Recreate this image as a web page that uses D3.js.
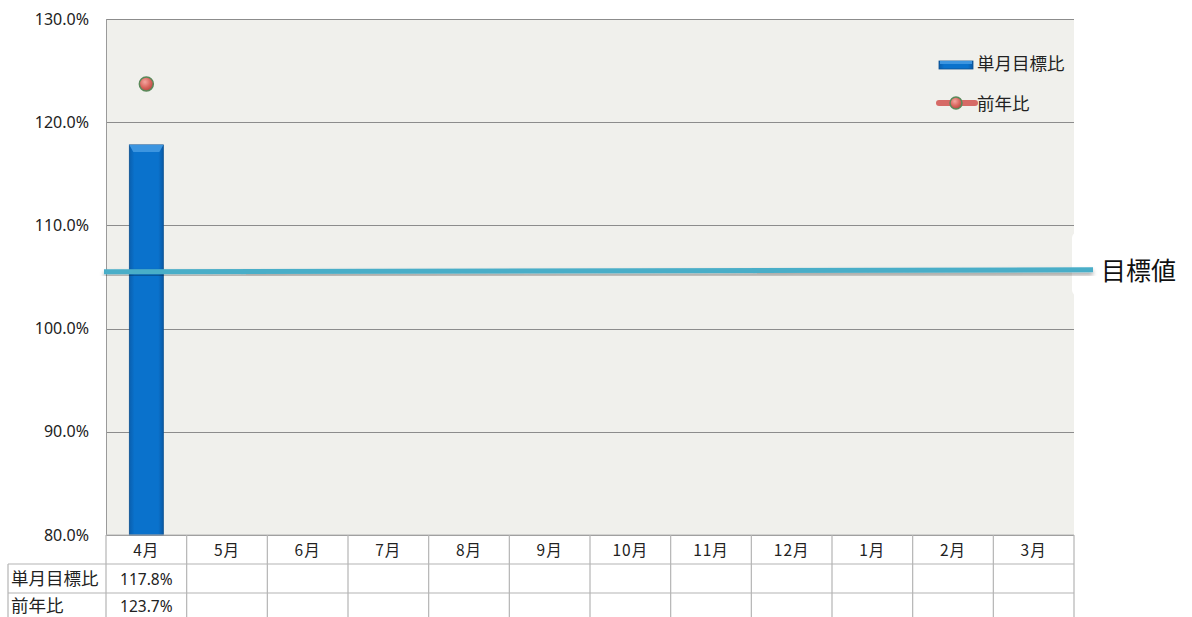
<!DOCTYPE html>
<html lang="ja">
<head>
  <meta charset="UTF-8">
  <title>単月目標比</title>
  <script src="https://d3js.org/d3.v7.min.js"></script>
  <style>
    body { margin: 0; background: #fff; }
    text { font-family: "Noto Sans CJK JP", "Noto Sans", sans-serif; fill: #222; }
  </style>
</head>
<body>
<script type="text/javascript">
    var months = ["4月","5月","6月","7月","8月","9月","10月","11月","12月","1月","2月","3月"];
    var targetRatio = [117.8, null, null, null, null, null, null, null, null, null, null, null];
    var prevYearRatio = [123.7, null, null, null, null, null, null, null, null, null, null, null];
    var yTicks = [80, 90, 100, 110, 120, 130];
    var goalValue = [105.5, 105.7];
    var seriesNames = ["単月目標比", "前年比"];

    var W = 1192, H = 617;
    var plotL = 106, plotR = 1074, plotT = 19, plotB = 535;

    var svg = d3.select("body").append("svg")
                .attr("width", W)
                .attr("height", H);

    var defs = svg.append("defs");
    var bg = defs.append("linearGradient").attr("id", "barGrad")
                 .attr("x1", 0).attr("x2", 1).attr("y1", 0).attr("y2", 0);
    bg.append("stop").attr("offset", "0%").attr("stop-color", "#0a5fae");
    bg.append("stop").attr("offset", "15%").attr("stop-color", "#0a72cc");
    bg.append("stop").attr("offset", "85%").attr("stop-color", "#0a72cc");
    bg.append("stop").attr("offset", "100%").attr("stop-color", "#0a5aa6");
    var dg = defs.append("radialGradient").attr("id", "dotGrad")
                 .attr("cx", "40%").attr("cy", "35%").attr("r", "65%");
    dg.append("stop").attr("offset", "0%").attr("stop-color", "#f4a6a0");
    dg.append("stop").attr("offset", "60%").attr("stop-color", "#d9675f");
    dg.append("stop").attr("offset", "100%").attr("stop-color", "#b84a44");
    var sh = defs.append("filter").attr("id", "shadow")
                 .attr("x", "-5%").attr("y", "-200%").attr("width", "110%").attr("height", "500%");
    sh.append("feDropShadow").attr("dx", 0).attr("dy", 3).attr("stdDeviation", 2)
      .attr("flood-color", "#000").attr("flood-opacity", 0.35);

    var x = d3.scaleBand().domain(months).range([plotL, plotR]);
    var y = d3.scaleLinear().domain([80, 130]).range([plotB, plotT]);

    // plot background
    svg.append("rect")
       .attr("x", plotL).attr("y", plotT)
       .attr("width", plotR - plotL).attr("height", plotB - plotT)
       .attr("fill", "#f0f0ec");

    // gridlines
    svg.append("g").selectAll("line")
       .data(yTicks)
       .enter().append("line")
       .attr("x1", plotL).attr("x2", plotR)
       .attr("y1", function(d){ return Math.round(y(d)) + 0.5; })
       .attr("y2", function(d){ return Math.round(y(d)) + 0.5; })
       .attr("stroke", "#8c8c8c").attr("stroke-width", 1);
    svg.append("line")
       .attr("x1", plotL + 0.5).attr("x2", plotL + 0.5)
       .attr("y1", plotT).attr("y2", plotB)
       .attr("stroke", "#9a9a9a");

    // y axis labels
    svg.append("g").selectAll("text")
       .data(yTicks)
       .enter().append("text")
       .attr("x", 89).attr("y", function(d){ return y(d) + 5.5; })
       .attr("text-anchor", "end")
       .style("font-family", "'Noto Sans', sans-serif")
       .style("font-size", "16px")
       .text(function(d){ return d.toFixed(1) + "%"; });

    // bars
    var barW = 34;
    var barData = months.map(function(m, i){ return {m: m, v: targetRatio[i]}; })
                        .filter(function(d){ return d.v != null; });
    var bars = svg.append("g").selectAll("g")
       .data(barData)
       .enter().append("g");
    bars.append("rect")
       .attr("x", function(d){ return x(d.m) + (x.bandwidth() - barW) / 2; })
       .attr("y", function(d){ return y(d.v); })
       .attr("width", barW)
       .attr("height", function(d){ return y(80) - y(d.v); })
       .attr("fill", "url(#barGrad)")
       .attr("stroke", "#0a4f90").attr("stroke-width", 0.8);
    bars.append("path")
       .attr("d", function(d){
         var x0 = x(d.m) + (x.bandwidth() - barW) / 2, y0 = y(d.v);
         return "M" + x0 + "," + y0 + "L" + (x0 + barW) + "," + y0 +
                "L" + (x0 + barW - 4) + "," + (y0 + 7) + "L" + (x0 + 4) + "," + (y0 + 7) + "Z";
       })
       .attr("fill", "#3c95e0");

    // dots
    var dotData = months.map(function(m, i){ return {m: m, v: prevYearRatio[i]}; })
                        .filter(function(d){ return d.v != null; });
    svg.append("g").selectAll("circle")
       .data(dotData)
       .enter().append("circle")
       .attr("cx", function(d){ return x(d.m) + x.bandwidth() / 2; })
       .attr("cy", function(d){ return y(d.v); })
       .attr("r", 7)
       .attr("fill", "url(#dotGrad)")
       .attr("stroke", "#5a8a5a").attr("stroke-width", 1.5);

    // goal line
    svg.append("rect")
       .attr("x", 1072).attr("y", 232).attr("width", 130).attr("height", 64)
       .attr("rx", 6).attr("fill", "#ffffff");
    svg.append("line")
       .attr("x1", 104).attr("x2", 1093)
       .attr("y1", y(goalValue[0])).attr("y2", y(goalValue[1]))
       .attr("stroke", "#4aaec8").attr("stroke-width", 5)
       .attr("filter", "url(#shadow)");
    svg.append("text")
       .attr("x", 1101).attr("y", 280)
       .style("font-size", "25px")
       .style("fill", "#111")
       .text("目標値");

    // legend
    var lg = svg.append("g");
    lg.append("rect").attr("x", 939).attr("y", 61).attr("width", 34).attr("height", 8)
      .attr("fill", "url(#barGrad)").attr("stroke", "#0a4f90").attr("stroke-width", 0.8);
    lg.append("rect").attr("x", 940).attr("y", 61).attr("width", 32).attr("height", 3)
      .attr("fill", "#3c95e0");
    lg.append("text").attr("x", 977).attr("y", 70).style("font-size", "17.5px").text(seriesNames[0]);
    lg.append("line").attr("x1", 939).attr("x2", 975).attr("y1", 103).attr("y2", 103)
      .attr("stroke", "#d66a66").attr("stroke-width", 6).attr("stroke-linecap", "round");
    lg.append("circle").attr("cx", 956).attr("cy", 103).attr("r", 6)
      .attr("fill", "url(#dotGrad)").attr("stroke", "#5a8a5a").attr("stroke-width", 1.5);
    lg.append("text").attr("x", 977).attr("y", 110).style("font-size", "17.5px").text(seriesNames[1]);

    // data table
    var rowY = [535, 564, 593, 622];
    var tbl = svg.append("g").attr("stroke", "#b4b4b4").attr("stroke-width", 1.2);
    rowY.slice(0, 3).forEach(function(ry, i){
      tbl.append("line").attr("x1", i === 0 ? plotL : 8).attr("x2", plotR)
         .attr("y1", ry).attr("y2", ry);
    });
    tbl.append("line").attr("x1", 8).attr("x2", 8).attr("y1", rowY[1]).attr("y2", H);
    months.forEach(function(m){
      tbl.append("line").attr("x1", x(m)).attr("x2", x(m)).attr("y1", rowY[0]).attr("y2", H);
    });
    tbl.append("line").attr("x1", plotR).attr("x2", plotR).attr("y1", rowY[0]).attr("y2", H);

    var tx = svg.append("g").style("font-size", "15.5px");
    tx.selectAll("text.m").data(months).enter().append("text")
      .attr("x", function(d){ return x(d) + x.bandwidth() / 2; })
      .attr("y", rowY[0] + 21).attr("text-anchor", "middle")
      .style("letter-spacing", "1px")
      .text(function(d){ return d; });
    [targetRatio, prevYearRatio].forEach(function(arr, r){
      var by = rowY[r + 1] + (r === 1 ? 19 : 21);
      tx.append("text").attr("x", 11).attr("y", by)
        .style("font-size", "17.5px").text(seriesNames[r]);
      tx.selectAll("text.v" + r).data(arr).enter().append("text")
        .attr("x", function(d, i){ return x(months[i]) + x.bandwidth() / 2; })
        .attr("y", by).attr("text-anchor", "middle")
        .style("font-family", "'Noto Sans', sans-serif")
        .text(function(d){ return d == null ? "" : d.toFixed(1) + "%"; });
    });
</script>
</body>
</html>
